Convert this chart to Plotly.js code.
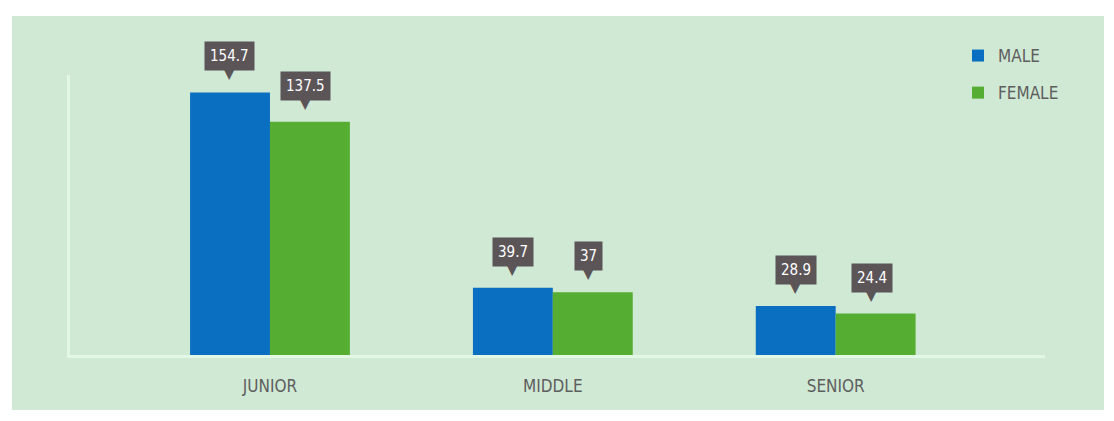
<!DOCTYPE html>
<html>
<head>
<meta charset="utf-8">
<script src="https://cdn.plot.ly/plotly-3.0.1.min.js"></script>
<style>html,body{margin:0;padding:0;background:#fff;}#chart{width:1114px;height:421px;}</style>
</head>
<body>
<div id="chart"></div>
<script>
const categories = ["JUNIOR", "MIDDLE", "SENIOR"];
const maleValues = [154.7, 39.7, 28.9];
const femaleValues = [137.5, 37, 24.4];
const maleLabels = ["154.7", "39.7", "28.9"];
const femaleLabels = ["137.5", "37", "24.4"];
const seriesNames = ["MALE", "FEMALE"];

const FONT = "'DejaVu Sans Condensed', 'Liberation Sans Narrow', 'Roboto', sans-serif";
const W = 1114, H = 421;
const M = {l: 70, r: 69, t: 75, b: 66};
const pw = W - M.l - M.r, ph = H - M.t - M.b;
const px = x => (x - M.l) / pw;
const py = y => (H - M.b - y) / ph;

const traces = [
  {type: 'bar', name: seriesNames[0], x: categories, y: maleValues,
   marker: {color: '#0b6fc1'}, legendgroup: 'm', hoverinfo: 'none'},
  {type: 'bar', name: seriesNames[1], x: categories, y: femaleValues,
   marker: {color: '#55ae32'}, legendgroup: 'f', hoverinfo: 'none'}
];

const annotations = [];
function addLabel(i, val, txt, shift) {
  annotations.push({x: categories[i], y: val, xref: 'x', yref: 'y', text: txt, showarrow: false,
    xshift: shift, yshift: 36, yanchor: 'middle', bgcolor: '#5b5558', borderpad: 5,
    font: {family: FONT, size: 15, color: '#ffffff'}});
  annotations.push({x: categories[i], y: val, xref: 'x', yref: 'y', text: '▼', showarrow: false,
    xshift: shift, yshift: 8, yanchor: 'bottom',
    font: {family: 'DejaVu Sans', size: 16, color: '#5b5558'}});
}
categories.forEach((c, i) => {
  addLabel(i, maleValues[i], maleLabels[i], -40);
  addLabel(i, femaleValues[i], femaleLabels[i], 36);
});

const shapes = [
  {type: 'rect', xref: 'paper', yref: 'paper', x0: px(12), x1: px(1104), y0: py(410), y1: py(16),
   fillcolor: '#d0e9d4', line: {width: 0}, layer: 'below'}
];

const layout = {
  width: W, height: H,
  margin: M,
  paper_bgcolor: '#ffffff',
  plot_bgcolor: 'rgba(0,0,0,0)',
  barmode: 'group', bargap: 0.435, bargroupgap: 0,
  showlegend: true,
  legend: {x: px(958), y: py(38), xanchor: 'left', yanchor: 'top', bgcolor: 'rgba(0,0,0,0)',
    font: {family: FONT, size: 17, color: '#5e5e5e'}, tracegroupgap: 12, traceorder: 'grouped'},
  xaxis: {type: 'category', range: [-0.707, 2.74], showgrid: false, zeroline: false,
    showline: true, linecolor: '#e3f7e5', linewidth: 3,
    ticks: 'outside', ticklen: 14, tickcolor: 'rgba(0,0,0,0)',
    tickfont: {family: FONT, size: 17, color: '#5e5e5e'}},
  yaxis: {range: [0, 165], showgrid: false, zeroline: false, showticklabels: false,
    showline: true, linecolor: '#e3f7e5', linewidth: 3, ticks: ''},
  annotations: annotations,
  shapes: shapes
};

Plotly.newPlot('chart', traces, layout, {displayModeBar: false, staticPlot: true});
</script>
</body>
</html>
